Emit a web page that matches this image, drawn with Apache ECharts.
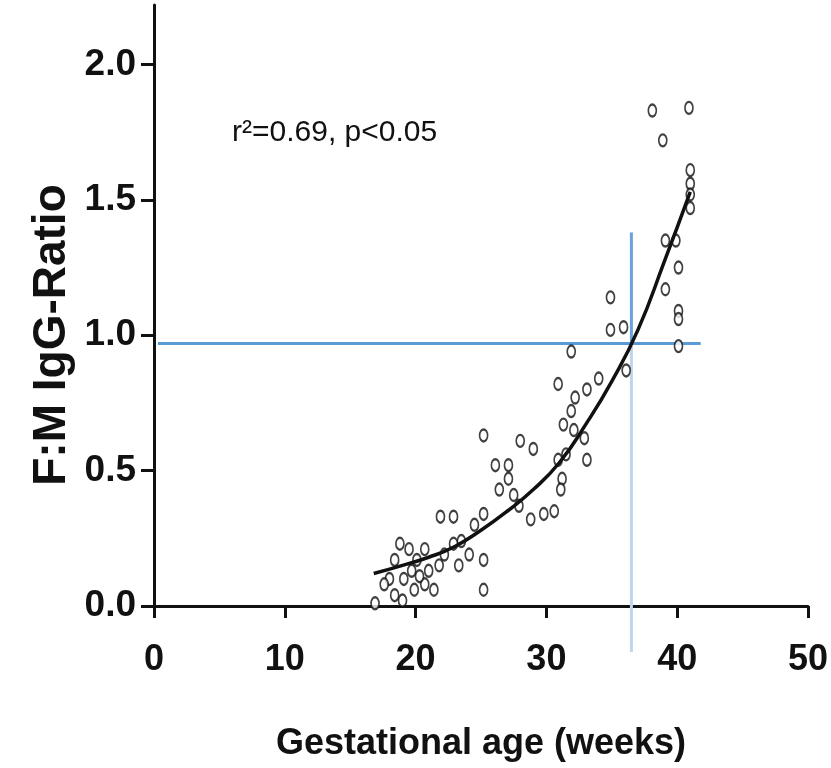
<!DOCTYPE html>
<html>
<head>
<meta charset="utf-8">
<script src="https://cdn.jsdelivr.net/npm/echarts@6/dist/echarts.min.js"></script>
<style>
  html, body { margin: 0; padding: 0; background: #fff; }
  #chart { width: 831px; height: 768px; }
</style>
</head>
<body>
<div id="chart"></div>
<script>
// measured points: gestational age (weeks), F:M IgG ratio
var ageWeeks = [38.1, 40.9, 38.9, 41.0, 41.0, 41.0, 41.0, 39.1, 39.9, 39.1, 40.1, 40.1, 40.1, 40.1,
  34.9, 34.9, 35.9, 36.1, 34.0, 33.1, 32.2, 31.9, 30.9, 31.9, 31.3, 32.1, 32.9, 33.1, 31.5, 30.9,
  31.2, 31.1, 30.6, 29.8, 28.8, 28.0, 29.0, 26.1, 27.1, 26.4, 27.1, 27.5, 27.9, 25.2, 25.2, 24.5,
  25.2, 25.2, 22.9, 21.9, 23.5, 22.9, 24.1, 23.3, 22.2, 21.8, 21.0, 20.7, 21.4, 20.1, 19.7, 19.1,
  18.8, 19.5, 18.4, 18.0, 17.6, 18.4, 16.9, 19.0, 19.9, 20.3, 20.7];
var iggRatio = [1.83, 1.84, 1.72, 1.61, 1.56, 1.52, 1.47, 1.35, 1.35, 1.17, 1.25, 1.09, 1.06, 0.96,
  1.14, 1.02, 1.03, 0.87, 0.84, 0.80, 0.77, 0.94, 0.82, 0.72, 0.67, 0.65, 0.62, 0.54, 0.56, 0.54,
  0.47, 0.43, 0.35, 0.34, 0.32, 0.61, 0.58, 0.52, 0.52, 0.43, 0.47, 0.41, 0.37, 0.63, 0.34, 0.30,
  0.17, 0.06, 0.33, 0.33, 0.24, 0.23, 0.19, 0.15, 0.19, 0.15, 0.13, 0.08, 0.06, 0.17, 0.13, 0.10,
  0.23, 0.21, 0.17, 0.10, 0.08, 0.04, 0.01, 0.02, 0.06, 0.11, 0.21];

// fitted curve
var fitX = [16.8, 19, 21, 23, 25, 27, 29, 31, 33, 35, 37, 39, 41];
var fitY = [0.12, 0.15, 0.18, 0.22, 0.28, 0.35, 0.43, 0.53, 0.67, 0.83, 1.02, 1.27, 1.53];

// blue reference lines
var refHorizX = [0.3, 41.8];
var refHorizY = 0.97;
var refVertX = 36.5;
var refVertY = [1.38, 0.97, -0.17];

var xTicks = [0, 10, 20, 30, 40, 50];
var yTicks = [0, 0.5, 1.0, 1.5, 2.0];

var font = '"Liberation Sans", Arial, sans-serif';

var points = ageWeeks.map(function (x, i) { return [x, iggRatio[i]]; });
var fit = fitX.map(function (x, i) { return [x, fitY[i]]; });

var chart = echarts.init(document.getElementById('chart'));

var option = {
  animation: false,
  backgroundColor: '#fff',
  grid: { left: 154, right: 21, top: 5, bottom: 162 },
  graphic: [
    {
      type: 'text', left: 232, top: 118,
      style: { text: 'r\u00b2=0.69, p<0.05', font: '30px ' + font, fill: '#111' }
    },
    {
      type: 'text', x: 52, y: 335, rotation: Math.PI / 2,
      style: {
        text: 'F:M IgG-Ratio', font: 'bold 46px ' + font, fill: '#111',
        align: 'center', verticalAlign: 'middle'
      }
    }
  ],
  xAxis: {
    type: 'value', min: 0, max: 50, interval: 10,
    name: 'Gestational age (weeks)', nameLocation: 'middle', nameGap: 120,
    nameTextStyle: { fontFamily: font, fontWeight: 'bold', fontSize: 36, color: '#111' },
    axisLine: { onZero: false, lineStyle: { color: '#111', width: 3 } },
    axisTick: { length: 12, lineStyle: { color: '#111', width: 3 } },
    axisLabel: {
      margin: 36, fontFamily: font, fontWeight: 'bold', fontSize: 36, color: '#111',
      formatter: function (v) { return xTicks.indexOf(v) >= 0 ? String(v) : ''; }
    },
    splitLine: { show: false }
  },
  yAxis: {
    type: 'value', min: 0, max: 2.22, interval: 0.5,
    axisLine: { lineStyle: { color: '#111', width: 3 } },
    axisTick: { length: 13, lineStyle: { color: '#111', width: 3 } },
    axisLabel: {
      margin: 18, fontFamily: font, fontWeight: 'bold', fontSize: 37, color: '#111',
      showMaxLabel: false,
      formatter: function (v) { return yTicks.indexOf(v) >= 0 ? v.toFixed(1) : ''; }
    },
    splitLine: { show: false }
  },
  series: [
    {
      type: 'line', data: [[refHorizX[0], refHorizY], [refHorizX[1], refHorizY]],
      symbol: 'none', clip: false, silent: true,
      lineStyle: { color: '#5b9bd5', width: 3 }, z: 1
    },
    {
      type: 'line', data: [[refVertX, refVertY[0]], [refVertX, refVertY[1]]],
      symbol: 'none', clip: false, silent: true,
      lineStyle: { color: '#6aa3da', width: 3 }, z: 1
    },
    {
      type: 'line', data: [[refVertX, refVertY[1]], [refVertX, refVertY[2]]],
      symbol: 'none', clip: false, silent: true,
      lineStyle: { color: '#bcd6ef', width: 3 }, z: 1
    },
    {
      type: 'scatter', data: points,
      symbol: 'emptyCircle', symbolSize: [8, 12],
      itemStyle: { color: '#111', borderColor: '#111', borderWidth: 3 }, z: 3
    },
    {
      type: 'line', data: fit, smooth: true, symbol: 'none',
      lineStyle: { color: '#111', width: 3.5 }, z: 4
    }
  ]
};

chart.setOption(option);
</script>
</body>
</html>
